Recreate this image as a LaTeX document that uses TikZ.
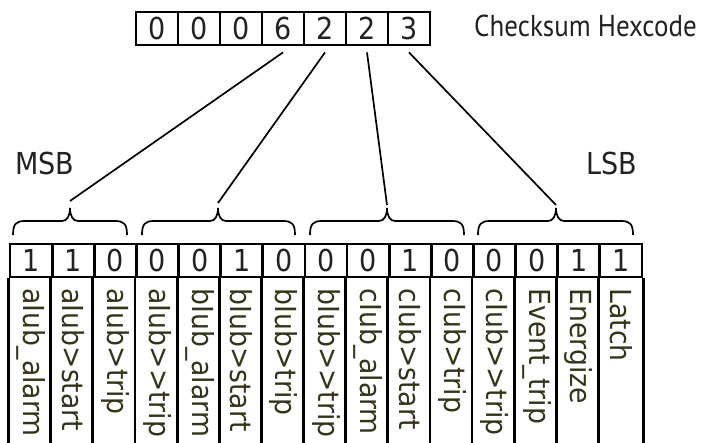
\documentclass[tikz,border=0pt]{standalone}
\usepackage{fontspec}
\setmainfont{DejaVu Sans}[Ligatures=NoCommon]
\newfontfamily\capfont{PT Sans}
\definecolor{labcol}{RGB}{52,52,28}
\definecolor{digcol}{RGB}{34,34,34}
\newcommand{\tallt}[1]{\scalebox{1}[1.12]{#1}}
\newcommand{\labt}[1]{\scalebox{0.92}[1]{#1}}
\begin{document}
\begin{tikzpicture}[x=1pt,y=-1pt,
  hexbox/.style={draw=black,line width=2.8pt,minimum width=42pt,minimum height=33pt,inner sep=0pt,text=digcol,font=\fontsize{27}{30}\selectfont},
  bitbox/.style={draw=black,line width=2.8pt,minimum width=42.13pt,minimum height=33pt,inner sep=0pt,text=digcol,font=\fontsize{27}{30}\selectfont},
  lab/.style={rotate=-90,anchor=west,inner sep=0pt,text=labcol,font=\fontsize{29}{30}\selectfont},
  sidelab/.style={inner sep=0pt,text=digcol,font=\fontsize{27}{30}\selectfont},
  conn/.style={line width=1.7pt,black},
  bracestyle/.style={line width=1.7pt,black}]
\useasboundingbox (0,0) rectangle (706,443);
% hex boxes
\foreach \v [count=\i] in {0,0,0,6,2,2,3}{
  \node[hexbox] (h\i) at ({136+42*(\i-0.5)},28.5) {\tallt{\v}};
}
\node[anchor=west,inner sep=0pt,text=digcol,font=\capfont\fontsize{27}{30}\selectfont] (title) at (474,26) {\tallt{Checksum Hexcode}};
\node[sidelab] (msb) at (45,163) {\tallt{MSB}};
\node[sidelab] (lsb) at (612,163) {\tallt{LSB}};
% bit cells
\foreach \v/\t [count=\i] in {1/aIub\_alarm,1/aIub>start,0/aIub>trip,0/aIub>{}>trip,0/bIub\_alarm,1/bIub>start,0/bIub>trip,0/bIub>{}>trip,0/cIub\_alarm,1/cIub>start,0/cIub>trip,0/cIub>{}>trip,0/Event\_trip,1/Energize,1/Latch}{
  \node[bitbox] (b\i) at ({10+42.133*(\i-0.5)},260.5) {\tallt{\v}};
  \node[lab] (l\i) at ([yshift=-10pt]b\i.south) {\labt{\t}};
  \draw[line width=2.8pt] (b\i.south west) -- ++(0,170);
}
\draw[line width=2.8pt] (b15.south east) -- ++(0,170);
% braces
\newcommand{\mybrace}[4]{% x1, x2, tip, name
  \coordinate (#4) at (#3,208);
  \draw[bracestyle] (#1,235) .. controls (#1,224) and (#1+3,221) .. (#1+12,221)
    -- (#3-8,221) .. controls (#3-3,221) and (#3,216) .. (#4)
    .. controls (#3,216) and (#3+3,221) .. (#3+8,221)
    -- (#2-12,221) .. controls (#2-3,221) and (#2,224) .. (#2,235);
}
\mybrace{13}{127}{70}{t1}
\mybrace{142}{295}{218}{t2}
\mybrace{310}{464}{387}{t3}
\mybrace{478}{633}{556}{t4}
% connectors
\draw[conn] ([yshift=-6pt]h4.south) -- ([yshift=7pt]t1);
\draw[conn] ([yshift=-6pt]h5.south) -- ([yshift=5pt]t2);
\draw[conn] ([yshift=-6pt]h6.south) -- ([yshift=3pt]t3);
\draw[conn] ([yshift=-6pt]h7.south) -- ([yshift=3pt]t4);
\end{tikzpicture}
\end{document}
